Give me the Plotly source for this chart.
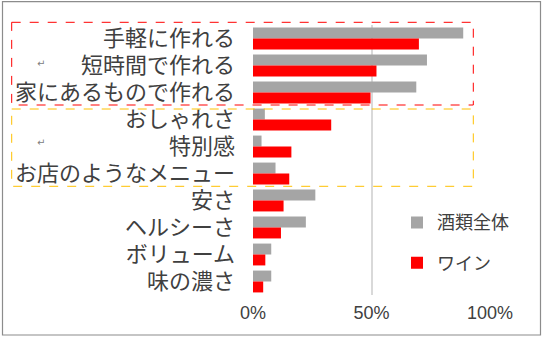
import plotly.graph_objects as go

categories = ["手軽に作れる", "短時間で作れる", "家にあるもので作れる", "おしゃれさ", "特別感",
              "お店のようなメニュー", "安さ", "ヘルシーさ", "ボリューム", "味の濃さ"]
all_alcohol = [88.7, 73.4, 68.9, 5.0, 3.6, 9.5, 26.3, 22.3, 7.7, 7.7]
wine = [70.0, 52.1, 49.6, 33.0, 16.2, 15.3, 12.9, 11.8, 5.2, 4.3]
series_names = ["酒類全体", "ワイン"]
x_ticks = [0, 50, 100]
x_tick_labels = ["0%", "50%", "100%"]

W, H = 543, 338
ML, MR, MT, MB = 253, 53, 25, 43
PW, PH = W - ML - MR, H - MT - MB


def px(x):
    return (x - ML) / PW


def py(y):
    return 1 - (y - MT) / PH


fig = go.Figure()
fig.add_trace(go.Bar(y=categories, x=all_alcohol, orientation="h", name=series_names[0],
                     marker=dict(color="#a5a5a5", line=dict(width=0)), legend="legend"))
fig.add_trace(go.Bar(y=categories, x=wine, orientation="h", name=series_names[1],
                     marker=dict(color="#ff0000", line=dict(width=0)), legend="legend2"))

shapes = [
    dict(type="rect", xref="paper", yref="paper", x0=px(2.5), x1=px(540.5), y0=py(1.7), y1=py(335),
         line=dict(color="#8c8c8c", width=1.2), layer="above"),
    dict(type="rect", xref="paper", yref="paper", x0=px(11.7), x1=px(473.3), y0=py(22.3), y1=py(105),
         line=dict(color="#ff0000", width=1, dash="dash"), layer="above"),
    dict(type="rect", xref="paper", yref="paper", x0=px(11.7), x1=px(473.3), y0=py(109), y1=py(186.3),
         line=dict(color="#ffc000", width=1, dash="dash"), layer="above"),
]

annotations = [
    dict(text="↵", xref="paper", yref="paper", x=px(35), y=py(56), showarrow=False,
         font=dict(size=10, color="#808080", family="DejaVu Sans")),
    dict(text="↵", xref="paper", yref="paper", x=px(35), y=py(142), showarrow=False,
         font=dict(size=10, color="#808080", family="DejaVu Sans")),
]

legend_common = dict(xref="container", yref="container", xanchor="left", yanchor="middle",
                     bgcolor="rgba(0,0,0,0)", borderwidth=0,
                     font=dict(size=18, color="#404040", family="Noto Sans CJK JP"))

fig.update_layout(
    width=W, height=H,
    margin=dict(l=ML, r=MR, t=MT, b=MB, autoexpand=False),
    paper_bgcolor="white", plot_bgcolor="white",
    barmode="group", bargap=0.19, bargroupgap=0.0,
    showlegend=True,
    legend=dict(x=397 / W, y=1 - 222.7 / H, **legend_common),
    legend2=dict(x=397 / W, y=1 - 263 / H, **legend_common),
    xaxis=dict(range=[0, 100], tickmode="array", tickvals=x_ticks, ticktext=x_tick_labels,
               showgrid=True, automargin=False, ticklabelstandoff=5,
               gridcolor="#d9d9d9", gridwidth=1.5, zeroline=False, showline=False,
               tickfont=dict(family="Liberation Sans Narrow, Liberation Sans", size=18, color="#404040"),
               fixedrange=True),
    yaxis=dict(categoryorder="array", categoryarray=categories, autorange="reversed",
               showline=False, showgrid=False, zeroline=False, ticks="", automargin=False,
               ticklabelstandoff=17,
               tickfont=dict(family="Noto Sans CJK JP", size=22, color="#404040")),
    shapes=shapes, annotations=annotations,
    font=dict(family="Noto Sans CJK JP"),
)

fig.write_html("out.html")
